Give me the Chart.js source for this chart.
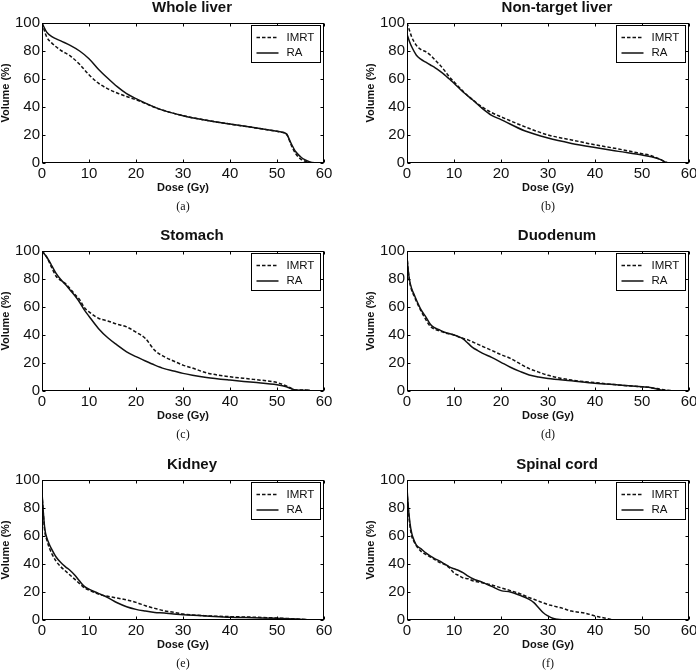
<!DOCTYPE html>
<html>
<head>
<meta charset="utf-8">
<script src="https://cdn.jsdelivr.net/npm/chart.js@4.4.0/dist/chart.umd.min.js"></script>
<style>
  html, body { margin: 0; padding: 0; background: #fff; overflow: hidden; }
  body { width: 696px; height: 671px; position: relative; }
  canvas { position: absolute; }
</style>
</head>
<body>
<canvas id="c0"></canvas>
<canvas id="c1"></canvas>
<canvas id="c2"></canvas>
<canvas id="c3"></canvas>
<canvas id="c4"></canvas>
<canvas id="c5"></canvas>
<script>
// series names, titles, captions, ticks
var seriesNames = ["IMRT", "RA"];
var panelTitles = ["Whole liver", "Non-target liver", "Stomach", "Duodenum", "Kidney", "Spinal cord"];
var panelCaptions = ["(a)", "(b)", "(c)", "(d)", "(e)", "(f)"];
var doseTicks = [0, 10, 20, 30, 40, 50, 60];
var volumeTicks = [0, 20, 40, 60, 80, 100];

// (a) whole liver
var liverDose = [0, 1, 2, 4, 6, 8, 10, 12, 14, 16, 18, 20, 25, 30, 35, 40, 45, 50, 51, 52, 53, 54, 55, 56, 57, 58, 59, 60];
var liverIMRT = [100, 90, 86, 80.5, 76.5, 70.5, 63, 57, 53, 50, 47.5, 45.2, 38.5, 33.8, 30.5, 27.8, 25.3, 22.6, 22, 20.8, 13, 6.5, 3, 1.2, 0.4, 0, 0, 0];
var liverRA = [100, 93.5, 90.5, 87.2, 84, 80, 74.5, 67, 60.5, 54.5, 49.5, 46, 38.5, 33.8, 30.5, 27.8, 25.3, 22.6, 22, 20.8, 14, 8, 4.5, 2.2, 0.8, 0.2, 0, 0];

// (b) non-target liver
var nonDose = [0, 0.5, 1, 2, 3, 4, 5, 6, 7, 8, 9, 10, 12, 14, 16, 18, 20, 25, 30, 35, 40, 45, 50, 52, 54, 55, 56, 57.5];
var nonIMRT = [100, 95, 90, 84, 81, 79.5, 77, 73.5, 70, 66, 61.6, 58, 51, 45, 40, 36, 33, 26, 20, 16.5, 13, 10, 6.6, 5.2, 2.4, 0.7, 0, 0];
var nonRA = [92, 87, 83, 77, 74, 72, 70, 68, 65.6, 63, 60, 57, 50.5, 45, 39, 34, 31, 23, 17.8, 14, 11, 8.3, 5.7, 4.5, 2.4, 0.5, 0, 0];

// (c) stomach
var stoDose = [0, 1, 2, 3, 4, 5, 6, 7, 8, 9, 10, 12, 14, 16, 18, 20, 22, 24, 26, 28, 30, 32, 35, 40, 45, 50, 52, 53, 54, 55, 57];
var stoIMRT = [100, 95.7, 88.6, 82, 79, 76.7, 73, 69, 65.3, 59.6, 56.5, 52, 50, 47.7, 45.8, 42, 37.5, 29, 24.5, 21.4, 18.5, 16.4, 13, 10.2, 8.3, 6, 3.6, 2, 0.7, 0.7, 0.5];
var stoRA = [100, 95.7, 90, 84, 79.6, 76, 72, 68, 63.4, 58, 53.4, 44.7, 38, 32.8, 28, 24.5, 21.4, 18.5, 16, 14.3, 12.6, 11.3, 9.7, 7.8, 6.2, 4.5, 3.1, 1.7, 0.7, 0.6, 0.5];

// (d) duodenum
var duoDose = [0, 0.2, 0.5, 1, 1.5, 2, 3, 4, 5, 6, 7, 8, 10, 11, 12, 13, 14, 15, 16, 18, 20, 22, 24, 26, 28, 30, 35, 40, 45, 50, 52, 54, 55, 56.5];
var duoIMRT = [97, 88, 79, 72, 68, 64, 57, 51, 46, 44, 42.8, 41.6, 40, 38.5, 37.5, 36.5, 35, 33.5, 32, 29, 26, 23.3, 19.5, 16, 13.5, 11.2, 7.8, 6, 4.3, 3, 2.4, 1.2, 0.7, 0.2];
var duoRA = [96, 88, 80, 73, 69, 65, 58, 53, 47.5, 45, 43.5, 42, 40, 38.8, 37, 34, 31, 29, 27, 24, 20.5, 17, 14, 11.4, 10, 9, 7.3, 5.5, 4.3, 3, 2.4, 0.7, 0.4, 0.2];

// (e) kidney
var kidDose = [0, 0.3, 0.6, 1, 1.5, 2, 3, 4, 5, 6, 7, 8, 9, 10, 12, 14, 16, 18, 20, 22, 24, 26, 28, 30, 35, 40, 45, 50, 55, 56.5];
var kidIMRT = [90, 75, 63, 57.5, 52, 48, 42, 38, 35, 32, 29, 26, 23, 21.4, 18.5, 16.9, 15.7, 14.3, 12.6, 10.2, 8.3, 6.6, 5.5, 4.3, 3, 2.4, 2, 1.4, 0.6, 0.2];
var kidRA = [91, 76, 65, 59, 54.5, 51, 45, 41, 38, 35.4, 32, 27.8, 24, 22, 19, 16, 12.3, 9.5, 7.6, 6.4, 5.4, 5, 4.2, 3.8, 2.9, 2, 1.6, 1.2, 0.6, 0.2];

// (f) spinal cord
var spinDose = [0, 0.3, 0.6, 1, 1.5, 2, 3, 4, 5, 6, 7, 8, 9, 10, 11, 12, 13, 14, 16, 18, 20, 22, 24, 26, 27, 28, 29, 30, 31, 32, 33, 35, 38, 40, 42, 43.5];
var spinIMRT = [92, 78, 68, 60, 56, 53, 49, 46.8, 45, 43, 41, 39.7, 37.3, 33.7, 31.8, 30, 29.5, 28, 26.6, 25, 23, 21, 18.8, 16, 14.8, 13.5, 12.2, 11, 10.2, 9.3, 8.5, 6.4, 4.8, 2.9, 1.4, 0.3];
var spinRA = [94, 80, 70, 62, 57, 53.5, 50.8, 48, 45.6, 43.7, 42, 40, 38, 36.6, 35.4, 33.7, 31.4, 29.5, 27, 24, 21, 20, 17.6, 14.7, 12.4, 8.8, 5.2, 2.9, 1.2, 0.5, 0.2, 0, null, null, null, null];

var panels = [
  {dose: liverDose, imrt: liverIMRT, ra: liverRA},
  {dose: nonDose, imrt: nonIMRT, ra: nonRA},
  {dose: stoDose, imrt: stoIMRT, ra: stoRA},
  {dose: duoDose, imrt: duoIMRT, ra: duoRA},
  {dose: kidDose, imrt: kidIMRT, ra: kidRA},
  {dose: spinDose, imrt: spinIMRT, ra: spinRA}
];

var ink = "#111";
var sans = "'Liberation Sans', Arial, sans-serif";

// axes box with inward ticks + boxed legend, matlab style
var matlabBox = {
  id: "matlabBox",
  afterLayout: function (chart) {
    // titles sit a little right of the axes centre in the original
    if (chart.titleBlock) {
      chart.titleBlock.left += 9;
      chart.titleBlock.right += 9;
    }
  },
  afterDatasetsDraw: function (chart) {
    var ctx = chart.ctx, a = chart.chartArea;
    var xs = chart.scales.x, ys = chart.scales.y;
    var l = Math.round(a.left) + 0.5, t = Math.round(a.top) + 0.5;
    var r = Math.round(a.right) - 0.5, b = Math.round(a.bottom) - 0.5;
    ctx.save();
    ctx.strokeStyle = "#000";
    ctx.lineWidth = 1;
    ctx.setLineDash([]);
    ctx.strokeRect(l, t, r - l, b - t);
    ctx.beginPath();
    xs.ticks.forEach(function (tk) {
      var px = Math.round(xs.getPixelForValue(tk.value)) + 0.5;
      ctx.moveTo(px, b); ctx.lineTo(px, b - 3);
      ctx.moveTo(px, t); ctx.lineTo(px, t + 3);
    });
    ys.ticks.forEach(function (tk) {
      var py = Math.round(ys.getPixelForValue(tk.value)) + 0.5;
      ctx.moveTo(l, py); ctx.lineTo(l + 3, py);
      ctx.moveTo(r, py); ctx.lineTo(r - 3, py);
    });
    ctx.stroke();

    // legend
    var w = 69, h = 37;
    var bx = Math.round(a.right) - 4 - w + 0.5, by = Math.round(a.top) + 2 + 0.5;
    ctx.fillStyle = "#fff";
    ctx.fillRect(bx, by, w, h);
    ctx.strokeRect(bx, by, w, h);
    ctx.font = "11.5px " + sans;
    ctx.textBaseline = "middle";
    ctx.textAlign = "left";
    chart.data.datasets.forEach(function (ds, i) {
      var yy = by + 12 + i * 15.5;
      ctx.beginPath();
      ctx.strokeStyle = ds.borderColor;
      ctx.lineWidth = ds.borderWidth;
      ctx.setLineDash(ds.borderDash || []);
      ctx.moveTo(bx + 5, yy);
      ctx.lineTo(bx + 27, yy);
      ctx.stroke();
      ctx.fillStyle = ink;
      ctx.fillText(ds.label, bx + 35, yy);
    });
    ctx.restore();
  }
};

function toPoints(dose, vol) {
  var pts = [];
  for (var i = 0; i < dose.length; i++) {
    pts.push({x: dose[i], y: vol[i]});
  }
  return pts;
}

function drawPanel(idx) {
  var p = panels[idx];
  var col = idx % 2, row = Math.floor(idx / 2);
  var cv = document.getElementById("c" + idx);
  cv.width = 360; cv.height = 228;
  cv.style.width = "360px"; cv.style.height = "228px";
  cv.style.left = (col === 0 ? -17 : 348) + "px";
  cv.style.top = [0, 228, 457][row] + "px";

  new Chart(cv, {
    type: "line",
    data: {
      datasets: [
        {
          label: seriesNames[0],
          data: toPoints(p.dose, p.imrt),
          borderColor: ink,
          borderWidth: 1.5,
          borderDash: [3.5, 2],
          pointRadius: 0,
          fill: false,
          cubicInterpolationMode: "monotone"
        },
        {
          label: seriesNames[1],
          data: toPoints(p.dose, p.ra),
          borderColor: ink,
          borderWidth: 1.5,
          pointRadius: 0,
          fill: false,
          cubicInterpolationMode: "monotone"
        }
      ]
    },
    options: {
      responsive: false,
      animation: false,
      devicePixelRatio: 1,
      layout: {padding: {left: 0, right: 19, top: 0, bottom: 0}},
      plugins: {
        legend: {display: false},
        tooltip: {enabled: false},
        title: {
          display: true,
          text: panelTitles[idx],
          fullSize: false,
          color: ink,
          font: {family: sans, size: 15, weight: "bold", lineHeight: 1},
          padding: {top: 0, bottom: 8}
        },
        subtitle: {
          display: true,
          text: panelCaptions[idx],
          position: "bottom",
          fullSize: false,
          color: ink,
          font: {family: "'Liberation Serif', 'Times New Roman', serif", size: 12, lineHeight: 1},
          padding: {top: 0, bottom: 15}
        }
      },
      scales: {
        x: {
          type: "linear",
          min: 0,
          max: 60,
          grid: {display: false, drawTicks: false},
          border: {display: false},
          afterBuildTicks: function (scale) {
            scale.ticks = doseTicks.map(function (v) { return {value: v}; });
          },
          afterFit: function (scale) { scale.height = 38; },
          ticks: {color: ink, padding: 2, maxRotation: 0, font: {family: sans, size: 15}},
          title: {
            display: true,
            text: "Dose (Gy)",
            color: ink,
            font: {family: sans, size: 11, weight: "bold"},
            padding: {top: 0, bottom: 6}
          }
        },
        y: {
          type: "linear",
          min: 0,
          max: 100,
          grid: {display: false, drawTicks: false},
          border: {display: false},
          afterBuildTicks: function (scale) {
            scale.ticks = volumeTicks.map(function (v) { return {value: v}; });
          },
          afterFit: function (scale) { scale.width = 59; },
          ticks: {color: ink, padding: 2, font: {family: sans, size: 15}},
          title: {
            display: true,
            text: "Volume (%)",
            color: ink,
            font: {family: sans, size: 11, weight: "bold"},
            padding: {top: 16, bottom: 0}
          }
        }
      }
    },
    plugins: [matlabBox]
  });
}

for (var i = 0; i < panels.length; i++) {
  drawPanel(i);
}
</script>
</body>
</html>
